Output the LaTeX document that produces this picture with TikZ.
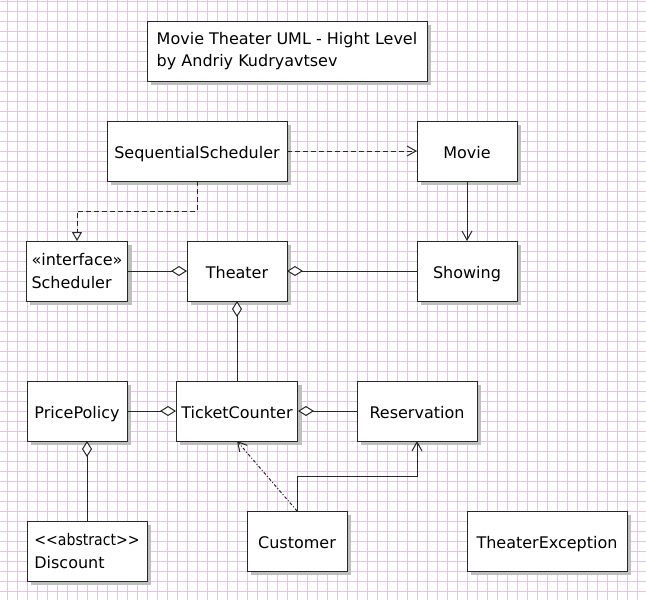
\documentclass[tikz,border=0pt]{standalone}
\usepackage{fontspec}
\newfontfamily\umlfont{DejaVu Sans}
\usepackage{xcolor}
\usepackage{tikz}
\usetikzlibrary{arrows.meta, positioning, shadows}
\definecolor{gridpink}{RGB}{224,198,228}
\definecolor{umlline}{RGB}{40,40,40}
\tikzset{
  umlclass/.style={
    rectangle, draw=umlline, line width=0.75pt,
    fill=white,
    general shadow={fill=black!25, shadow xshift=3pt, shadow yshift=-3pt},
    minimum width=75pt, minimum height=45pt,
    inner xsep=4pt, inner ysep=0pt, outer sep=0pt,
    text height=11pt, text depth=0pt,
    align=center, font=\umlfont\fontsize{12}{17}\selectfont
  },
  multiline/.style={umlclass, align=left, text height=, text depth=},
  gridline/.style={draw=gridpink, line width=0.75pt},
  conn/.style={draw=umlline, line width=0.75pt},
  dep/.style={conn, dash pattern=on 3.75pt off 2.25pt,
    -{Straight Barb[length=6.75pt, width=7.5pt]}},
  usage/.style={conn, dash pattern=on 2.25pt off 1.5pt on 0.75pt off 1.5pt,
    -{Straight Barb[length=6.75pt, width=7.5pt]}},
  assoc/.style={conn, -{Straight Barb[length=6.75pt, width=7.5pt]}},
  realize/.style={conn, dash pattern=on 3.75pt off 2.25pt,
    -{Triangle[fill=white, length=6.75pt, width=7.5pt]}},
  aggr/.style={conn, -{Diamond[fill=white, length=12pt, width=7.5pt]}}
}

\begin{document}
\begin{tikzpicture}[x=0.75pt, y=-0.75pt]

  % ---- Background grid ----
  \fill[white] (0,0) rectangle (646,600);
  \useasboundingbox (0,0) rectangle (646,600);
  \foreach \gx in {7,17,...,637} \draw[gridline] (\gx,0) -- (\gx,600);
  \foreach \gy in {1,11,...,591} \draw[gridline] (0,\gy) -- (646,\gy);

  % ---- Nodes ----
  \node[multiline, minimum width=210pt] (title) at (287,51)
    {Movie Theater UML - Hight Level\\by Andriy Kudryavtsev};

  \node[umlclass, minimum width=135pt] (seq)   at (197,151) {SequentialScheduler};
  \node[umlclass]                      (movie) at (467,151) {Movie};

  \node[multiline] (sched)   at (77,271)  {«interface»\\Scheduler};
  \node[umlclass]  (theater) at (237,271) {Theater};
  \node[umlclass]  (showing) at (467,271) {Showing};

  \node[umlclass]                   (price)  at (77,411)  {PricePolicy};
  \node[umlclass, minimum width=90pt] (ticket) at (237,411) {TicketCounter};
  \node[umlclass, minimum width=90pt] (reserv) at (417,411) {Reservation};

  \node[multiline, minimum width=90pt] (discount) at (87,551)
    {\scalebox{0.88}[1]{<<abstract>>}\\Discount};
  \node[umlclass]                      (customer)  at (297,541) {Customer};
  \node[umlclass, minimum width=120pt] (exception) at (547,541) {TheaterException};

  % ---- Arrows ----
  \draw[dep]     (seq) -- (movie);
  \draw[realize] (seq.south) -- ++(0,30) -| (sched.north);
  \draw[assoc]   (movie) -- (showing);

  \draw[aggr] (sched)   -- (theater);
  \draw[aggr] (showing) -- (theater);
  \draw[aggr] (ticket)  -- (theater);

  \draw[aggr] (price)  -- (ticket);
  \draw[aggr] (reserv) -- (ticket);
  \draw[aggr] (discount.north) -- (discount.north |- price.south);

  \draw[usage] (customer.north) -- (ticket.south);
  \draw[assoc] (customer.north) -- ++(0,-35) -| (reserv.south);

\end{tikzpicture}
\end{document}
